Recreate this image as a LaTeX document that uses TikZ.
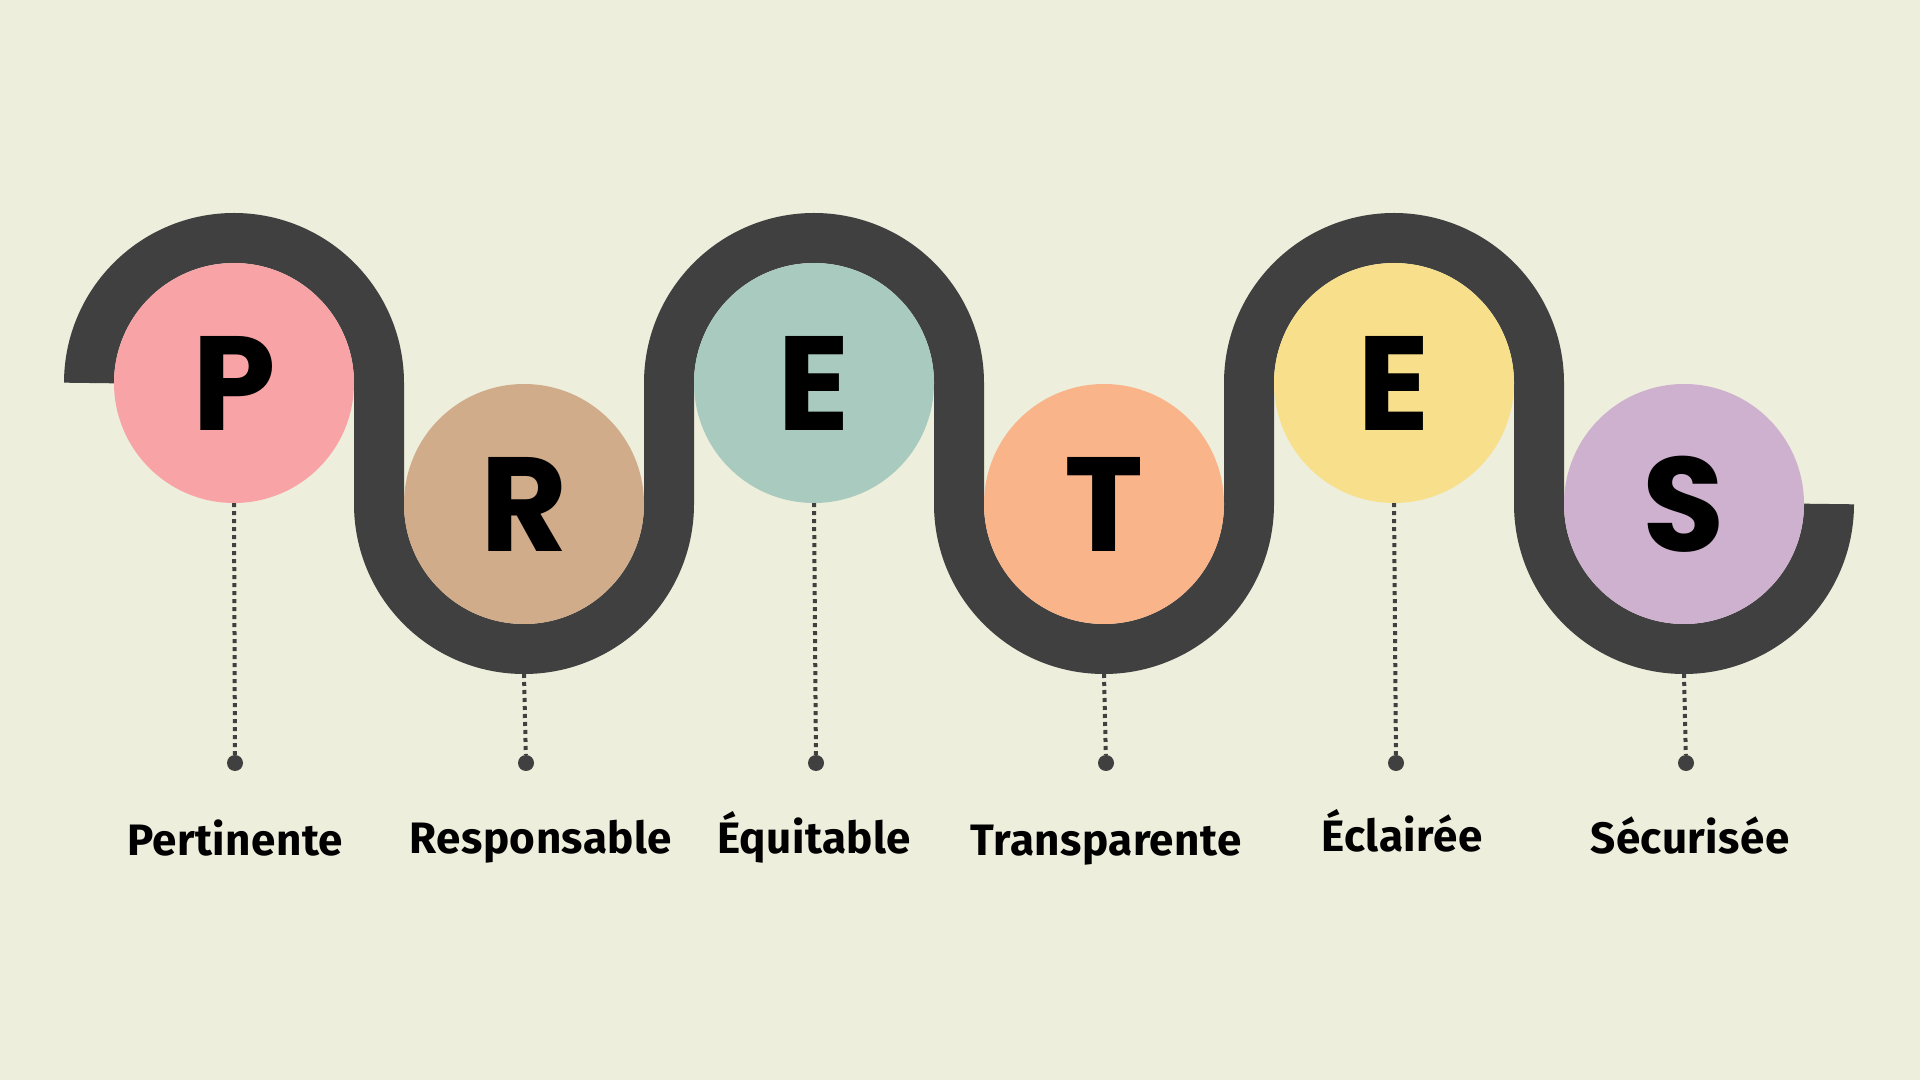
\documentclass[tikz,border=0pt]{standalone}
\usepackage{fontspec}
\setmainfont{Fira Sans}
\newfontfamily\letterfont{Poppins}
\newfontfamily\wordfont{Fira Sans}[LetterSpace=1]
\usetikzlibrary{positioning}
\usepackage{xcolor}

\definecolor{bgcol}{HTML}{EDEEDC}
\definecolor{trackcol}{HTML}{404040}
\definecolor{colP}{HTML}{F8A4A6}
\definecolor{colR}{HTML}{D0AC8A}
\definecolor{colE}{HTML}{A9CBBF}
\definecolor{colT}{HTML}{FAB48A}
\definecolor{colEE}{HTML}{F7DF8C}
\definecolor{colS}{HTML}{CEB0CF}

\tikzset{
  letter/.style={circle, inner sep=0pt, minimum size=240pt, text=black,
    font=\letterfont\bfseries\fontsize{134}{140}\selectfont},
  track/.style={draw=trackcol, line width=50pt, line cap=butt},
  stem/.style={draw=trackcol, line width=4pt, dash pattern=on 4pt off 4pt},
  pin/.style={circle, fill=trackcol, inner sep=0pt, minimum size=16pt},
  word/.style={anchor=base, text=black, font=\wordfont\bfseries\fontsize{44}{50}\selectfont}
}

\begin{document}
\begin{tikzpicture}[x=1pt, y=1pt]

\fill[bgcol] (0,0) rectangle (1920,1080);
\useasboundingbox (0,0) rectangle (1920,1080);

% the winding track
\draw[track] (89,697) arc[start angle=180, end angle=0, radius=145]
  -- (379,576) arc[start angle=180, end angle=360, radius=145]
  -- (669,697) arc[start angle=180, end angle=0, radius=145]
  -- (959,576) arc[start angle=180, end angle=360, radius=145]
  -- (1249,697) arc[start angle=180, end angle=0, radius=145]
  -- (1539,576) arc[start angle=180, end angle=360, radius=145];

% letters
\node[letter, fill=colP] (cP) at (234,697) {P};
\node[letter, fill=colR] (cR) at (524,576) {R};
\node[letter, fill=colE] (cE) at (814,697) {E};
\node[letter, fill=colT] (cT) at (1104,576) {T};
\node[letter, fill=colEE] (cEE) at (1394,697) {E};
\node[letter, fill=colS] (cS) at (1684,576) {S};

% track bottoms under the low circles
\coordinate (tR) at (524,406);
\coordinate (tT) at (1104,406);
\coordinate (tS) at (1684,406);

% pins
\node[pin] (pP) at (235,317) {};
\node[pin] (pR) at (526,317) {};
\node[pin] (pE) at (816,317) {};
\node[pin] (pT) at (1106,317) {};
\node[pin] (pEE) at (1396,317) {};
\node[pin] (pS) at (1686,317) {};

\draw[stem] (cP.south) -- (pP);
\draw[stem] (tR) -- (pR);
\draw[stem] (cE.south) -- (pE);
\draw[stem] (tT) -- (pT);
\draw[stem] (cEE.south) -- (pEE);
\draw[stem] (tS) -- (pS);

% words
\node[word] (wP) at (235,225) {Pertinente};
\node[word] (wR) at (541,227) {Responsable};
\node[word] (wE) at (814,227) {Équitable};
\node[word] (wT) at (1106,225) {Transparente};
\node[word] (wEE) at (1402,229) {Éclairée};
\node[word] (wS) at (1690,227) {Sécurisée};

\end{tikzpicture}
\end{document}
